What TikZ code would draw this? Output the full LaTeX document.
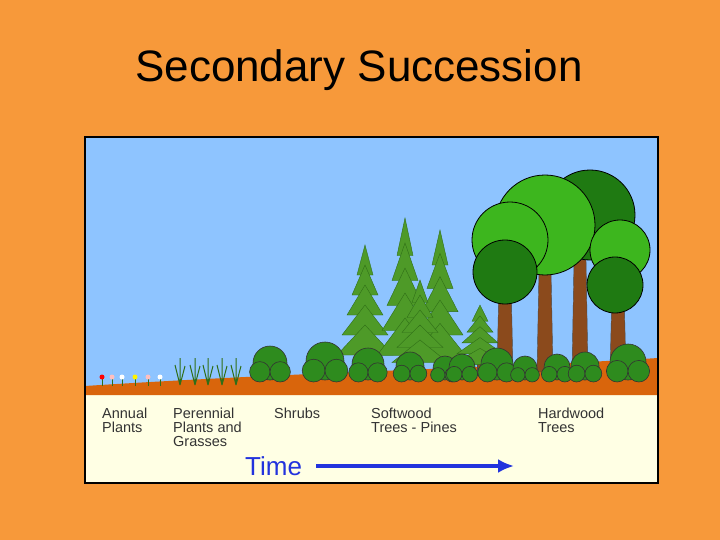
\documentclass[tikz,border=0pt]{standalone}
\usepackage{fontspec}
\usetikzlibrary{arrows.meta}
\setmainfont{Liberation Sans}
\definecolor{bgor}{HTML}{F7993A}
\definecolor{sky}{HTML}{8EC4FF}
\definecolor{ground}{HTML}{D9650C}
\definecolor{cream}{HTML}{FFFFE4}
\definecolor{pine}{HTML}{4E9A28}
\definecolor{pined}{HTML}{2F6E17}
\definecolor{shrub}{HTML}{2E8B1E}
\definecolor{leaf}{HTML}{3DB61E}
\definecolor{leafd}{HTML}{1F7A12}
\definecolor{trunk}{HTML}{8B4A1C}
\definecolor{tblue}{HTML}{2233DD}
\begin{document}
\begin{tikzpicture}[x=1pt,y=-1pt,
 lab/.style={anchor=north west,align=left,font=\fontsize{14.5}{14}\selectfont,text=black!80,inner sep=0pt},
 pinetri/.style={fill=pine,draw=pined,line width=0.4pt},
 crown/.style={fill=leaf,draw=black,line width=0.8pt},
 crownd/.style={fill=leafd,draw=black,line width=0.8pt},
 bush/.style={fill=shrub,draw=black!80,line width=0.6pt},
 tr/.style={fill=trunk,draw=black!70,line width=0.4pt}]
\useasboundingbox (0,0) rectangle (720,540);
\fill[bgor] (0,0) rectangle (720,540);
\node[font=\fontsize{44}{44}\selectfont] (title) at (359,70) {Secondary Succession};
% panel
\fill[sky] (85,137) rectangle (658,390);
\fill[cream] (85,393) rectangle (658,483);
\fill[ground] (85,395) -- (85,386) .. controls (300,372) and (500,368) .. (658,358) -- (658,395) -- cycle;
\draw[black,line width=1.2pt] (85,137) rectangle (658,483);
% hardwood trunks
\foreach \x/\t in {505/280,545/270,580/260,618/290}{\fill[tr] (\x-6,\t) -- (\x+6,\t) -- (\x+8,372) -- (\x-8,372) -- cycle;}
% hardwood crowns
\draw[crownd] (590,215) circle (45);
\draw[crown] (545,225) circle (50);
\draw[crown] (620,250) circle (30);
\draw[crown] (510,240) circle (38);
\draw[crownd] (505,272) circle (32);
\draw[crownd] (615,285) circle (28);
% pines
\foreach \x/\t/\h in {365/245/120,405/218/150,440/230/140,420/280/90,480/305/65}{
 \fill[tr] (\x-2.5,\t+20) rectangle (\x+2.5,375);
 \foreach \i in {0,1,2,3,4}{
  \fill[pinetri] (\x,\t+\i*\h/6) -- (\x+8+\i*5,\t+\i*\h/6+\h/4) -- (\x-8-\i*5,\t+\i*\h/6+\h/4) -- cycle;}
}
% shrubs
\foreach \x/\r in {270/17,325/19,368/16,410/14,445/12,462/13,497/16,525/12,557/13,585/14,628/18}{
 \draw[bush] (\x,380-\r) circle (\r);
 \draw[bush] (\x-\r*0.6,382-\r*0.6) circle (\r*0.6);
 \draw[bush] (\x+\r*0.6,382-\r*0.6) circle (\r*0.6);}
% small plants
\foreach \x in {180,195,208,222,236}{
 \draw[pined,line width=1pt] (\x,385) -- (\x-5,365) (\x,385) -- (\x,358) (\x,385) -- (\x+5,366);}
\foreach \x/\c in {102/red,112/pink,122/white,135/yellow,148/pink,160/white}{
 \draw[pined,line width=0.8pt] (\x,386) -- (\x,378);
 \fill[\c] (\x,377) circle (2.5);}
% labels
\node[lab] (l1) at (102,408) {Annual\\Plants};
\node[lab] (l2) at (173,408) {Perennial\\Plants and\\Grasses};
\node[lab] (l3) at (274,408) {Shrubs};
\node[lab] (l4) at (371,408) {Softwood\\Trees - Pines};
\node[lab] (l5) at (538,408) {Hardwood\\Trees};
\node[anchor=west,text=tblue,font=\fontsize{26}{26}\selectfont,inner sep=0pt] (time) at (245,466) {Time};
\coordinate (aend) at (514,466);
\draw[tblue,line width=4pt,-{Latex[length=16pt,width=14pt]}] (316,466) -- (aend);
\end{tikzpicture}
\end{document}
